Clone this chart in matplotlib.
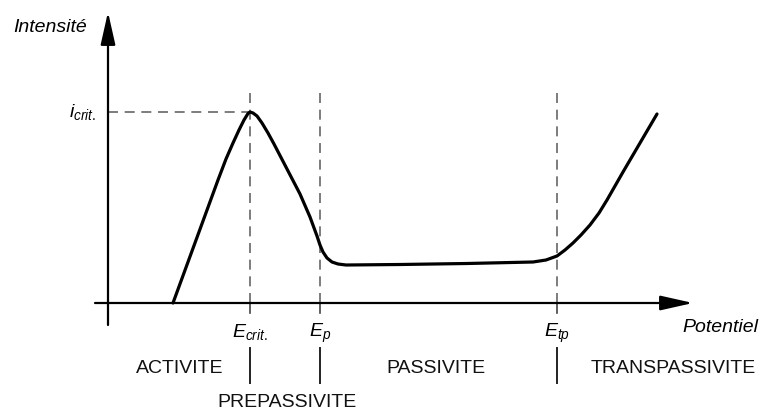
import matplotlib.pyplot as plt

plt.rcParams['font.family'] = ['Liberation Sans', 'DejaVu Sans']
plt.rcParams['mathtext.fontset'] = 'custom'
plt.rcParams['mathtext.rm'] = 'Liberation Sans'
plt.rcParams['mathtext.it'] = 'Liberation Sans:italic'

# polarisation curve (arbitrary units)
potential = [6.5, 8.0, 9.5, 11.0, 11.8, 12.5, 13.1, 13.6, 14.0, 14.2, 14.5,
             14.9, 15.4, 16.0, 16.6, 17.9, 19.2, 20.2, 20.9, 21.2, 21.5,
             21.9, 22.4, 23.0, 23.8, 29.2, 35.9, 42.5, 43.8, 44.9, 45.7,
             46.5, 47.3, 48.2, 49.1, 49.9, 51.5, 53.2, 54.9]
intensity = [0.0, 4.1, 8.2, 12.3, 14.4, 16.0, 17.3, 18.3, 18.95, 19.1, 19.0,
             18.7, 18.0, 17.0, 15.9, 13.4, 10.9, 8.6, 6.7, 5.8, 5.1,
             4.5, 4.1, 3.9, 3.8, 3.85, 3.95, 4.1, 4.3, 4.7, 5.3,
             6.0, 6.8, 7.8, 9.0, 10.3, 13.1, 16.0, 18.9]

E_crit, E_p, E_tp = 14.2, 21.2, 44.9
i_crit = 19.1
E_marks = [E_crit, E_p, E_tp]
E_labels = [r'$E_{crit.}$', r'$E_{p}$', r'$E_{tp}$']

regions = ['ACTIVITE', 'PREPASSIVITE', 'PASSIVITE', 'TRANSPASSIVITE']
region_x = [7.2, 17.9, 32.8, 56.5]
region_y = [-7.0, -10.4, -7.0, -7.0]

fig = plt.figure(figsize=(7.63, 4.12), dpi=100)
ax = fig.add_axes([0, 0, 1, 1])
ax.set_xlim(-10.8, 65.5)
ax.set_ylim(-10.9, 30.3)
ax.axis('off')

# axes with arrows
arrow = dict(arrowstyle='-|>,head_length=2.0,head_width=0.45', mutation_scale=10,
             color='black', lw=1.6, shrinkA=0, shrinkB=0)
ax.annotate('', xy=(0, 29.1), xytext=(0, -2.2), arrowprops=arrow)
ax.annotate('', xy=(58.5, 0), xytext=(-1.3, 0), arrowprops=arrow)

# guide lines
dash = dict(color='#666666', lw=1.2, dashes=(6, 4))
ax.plot([0, E_crit], [i_crit, i_crit], **dash)
for e in E_marks:
    ax.plot([e, e], [0, 21.6], **dash)
    ax.plot([e, e], [0, -1.0], color='#444444', lw=1.2)
    ax.plot([e, e], [-4.5, -8.0], color='#222222', lw=1.4)

ax.plot(potential, intensity, color='black', lw=2.3,
        solid_capstyle='round', solid_joinstyle='round')

# labels
ax.text(-9.5, 27.6, 'Intensité', fontsize=14, style='italic', va='center', ha='left')
ax.text(65.0, -2.5, 'Potentiel', fontsize=14, style='italic', va='center', ha='right')
ax.text(-1.2, i_crit, r'$i_{crit.}$', fontsize=14, va='center', ha='right')
for e, lab in zip(E_marks, E_labels):
    ax.text(e, -3.4, lab, fontsize=14, ha='center', va='baseline')
for name, x, y in zip(regions, region_x, region_y):
    ax.text(x, y, name, fontsize=14, ha='center', va='baseline', color='#111111')

fig.savefig('out.png', dpi=100)
